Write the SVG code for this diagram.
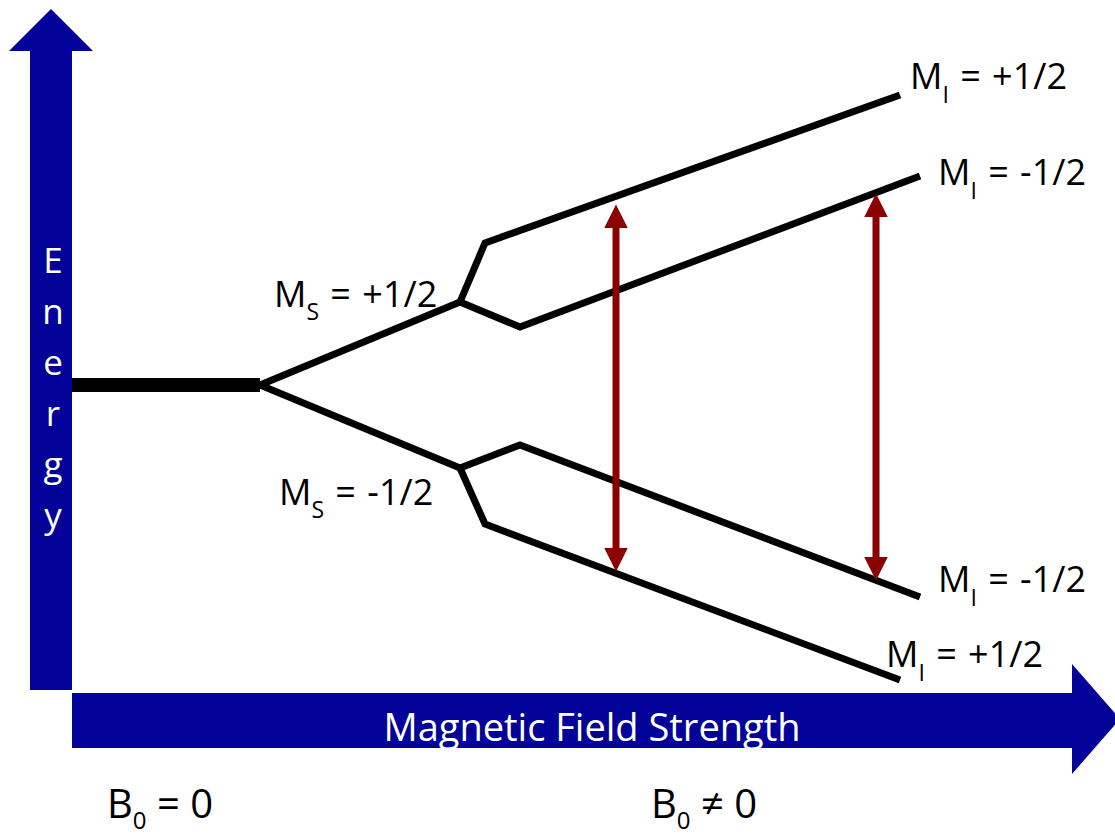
<svg xmlns="http://www.w3.org/2000/svg" width="1115" height="835" viewBox="0 0 1115 835">
<style>
.axis{fill:#030399}
.lvl{fill:none;stroke:#000;stroke-width:7;stroke-linejoin:miter}
.t{font-family:"Open Sans","Liberation Sans",sans-serif;font-size:35px;fill:#000}
.lab{font-size:36px;word-spacing:2px}
.sub{font-size:23px}
.w{fill:#fff}
.red{stroke:#8B0000;stroke-width:7}
</style>
<defs>
<marker id="ah" viewBox="0 0 10 10" refX="6" refY="5" markerWidth="3.4" markerHeight="3.4" orient="auto-start-reverse" markerUnits="strokeWidth">
<path d="M0,0 L10,5 L0,10 Z" fill="#8B0000"/>
</marker>
</defs>
<g id="energy-axis">
<polygon class="axis" points="30,690 30,51 9,51 51,9 93,51 72,51 72,690"/>
<text class="t w" x="53" y="273" text-anchor="middle">E</text>
<text class="t w" x="53" y="324" text-anchor="middle">n</text>
<text class="t w" x="53" y="375" text-anchor="middle">e</text>
<text class="t w" x="53" y="426" text-anchor="middle">r</text>
<text class="t w" x="53" y="477" text-anchor="middle">g</text>
<text class="t w" x="53" y="528" text-anchor="middle">y</text>
</g>
<g id="field-axis">
<polygon class="axis" points="72,693 1072,693 1072,664 1120,719 1072,774 1072,748 72,748"/>
<text class="t w" x="592" y="741" text-anchor="middle" style="font-size:38px">Magnetic Field Strength</text>
</g>
<g id="connectors">
<line x1="72" y1="385" x2="260" y2="385" stroke="#000" stroke-width="14"/>
<polyline class="lvl" points="260,385 460,302"/>
<polyline class="lvl" points="260,385 460,468"/>
<polyline class="lvl" points="460,302 485,243 900,95"/>
<polyline class="lvl" points="460,302 520,327 920,176"/>
<polyline class="lvl" points="460,468 520,445 920,597"/>
<polyline class="lvl" points="460,468 485,524 900,680"/>
<line class="red" x1="616" y1="214" x2="616" y2="562" marker-start="url(#ah)" marker-end="url(#ah)"/>
<line class="red" x1="876" y1="203" x2="876" y2="571" marker-start="url(#ah)" marker-end="url(#ah)"/>
</g>
<g id="labels">
<text class="t lab" x="274" y="307">M<tspan class="sub" dy="13">S</tspan><tspan dy="-13"> = +1/2</tspan></text>
<text class="t lab" x="279" y="505">M<tspan class="sub" dy="13">S</tspan><tspan dy="-13"> = -1/2</tspan></text>
<text class="t lab" x="910" y="89">M<tspan class="sub" dy="14">I</tspan><tspan dy="-14"> = +1/2</tspan></text>
<text class="t lab" x="938" y="185">M<tspan class="sub" dy="14">I</tspan><tspan dy="-14"> = -1/2</tspan></text>
<text class="t lab" x="938" y="592">M<tspan class="sub" dy="14">I</tspan><tspan dy="-14"> = -1/2</tspan></text>
<text class="t lab" x="886" y="667">M<tspan class="sub" dy="14">I</tspan><tspan dy="-14"> = +1/2</tspan></text>
<text class="t" x="107" y="818" style="font-size:40px">B<tspan class="sub" style="font-size:24px" dy="11">0</tspan><tspan dy="-11"> = 0</tspan></text>
<text class="t" x="651" y="818" style="font-size:40px">B<tspan class="sub" style="font-size:24px" dy="11">0</tspan><tspan dy="-11"> ≠ 0</tspan></text>
</g>
</svg>
